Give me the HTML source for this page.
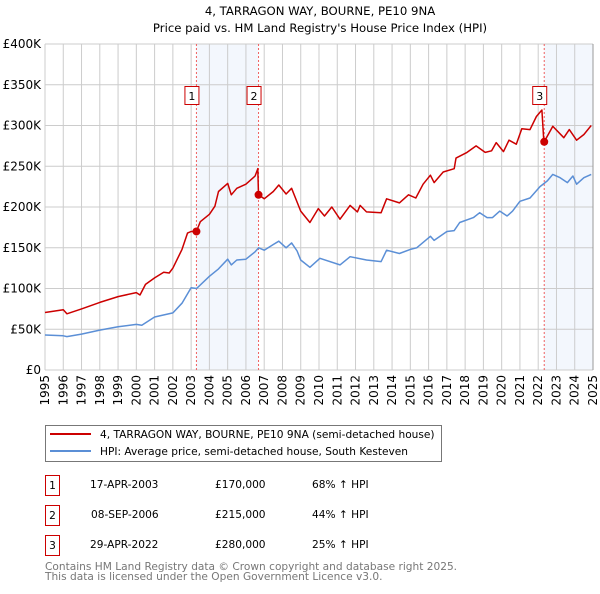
<!DOCTYPE html>
<html><head><meta charset="utf-8"><style>
body{margin:0;background:#fff;font-family:"DejaVu Sans","Liberation Sans",sans-serif;}
svg text{font-family:"DejaVu Sans","Liberation Sans",sans-serif;}
</style></head><body>
<svg id="chart" width="600" height="590" xmlns="http://www.w3.org/2000/svg">
<text x="320" y="15" text-anchor="middle" font-size="11.7">4, TARRAGON WAY, BOURNE, PE10 9NA</text>
<text x="320" y="32" text-anchor="middle" font-size="11.7">Price paid vs. HM Land Registry's House Price Index (HPI)</text>
<g id="plot"></g>
<g>
<rect x="45.5" y="425.5" width="396" height="36" fill="#fff" stroke="#777"/>
<line x1="50" y1="434" x2="91" y2="434" stroke="#cc0000" stroke-width="2"/>
<text x="100" y="438" font-size="10.6">4, TARRAGON WAY, BOURNE, PE10 9NA (semi-detached house)</text>
<line x1="50" y1="451" x2="91" y2="451" stroke="#5b8fd6" stroke-width="2"/>
<text x="100" y="455" font-size="10.6">HPI: Average price, semi-detached house, South Kesteven</text>
</g>
<g font-size="10.6">
<rect x="45.5" y="475.5" width="14" height="20" fill="none" stroke="#cc0000"/><text x="52.5" y="489" text-anchor="middle">1</text>
<text x="90" y="488">17-APR-2003</text><text x="215" y="488">£170,000</text><text x="312" y="488">68% ↑ HPI</text>
<rect x="45.5" y="505.5" width="14" height="20" fill="none" stroke="#cc0000"/><text x="52.5" y="519" text-anchor="middle">2</text>
<text x="91" y="518">08-SEP-2006</text><text x="215" y="518">£215,000</text><text x="312" y="518">44% ↑ HPI</text>
<rect x="45.5" y="535.5" width="14" height="20" fill="none" stroke="#cc0000"/><text x="52.5" y="549" text-anchor="middle">3</text>
<text x="90" y="548">29-APR-2022</text><text x="215" y="548">£280,000</text><text x="312" y="548">25% ↑ HPI</text>
</g>
<text x="45" y="570" font-size="10.6" fill="#777">Contains HM Land Registry data © Crown copyright and database right 2025.</text>
<text x="45" y="580" font-size="10.6" fill="#777">This data is licensed under the Open Government Licence v3.0.</text>
</svg>
<script>
const hpiYears=[1995,1996,1996.2,1997,1998,1999,2000,2000.3,2001,2002,2002.5,2003,2003.3,2004,2004.5,2005,2005.2,2005.5,2006,2006.5,2006.7,2007,2007.5,2007.8,2008.2,2008.5,2008.8,2009,2009.5,2010.05,2011.15,2011.7,2012.6,2013.4,2013.7,2014.4,2015,2015.35,2016.1,2016.3,2017,2017.4,2017.7,2018.45,2018.8,2019.2,2019.5,2019.9,2020.3,2020.6,2021,2021.55,2022.1,2022.5,2022.8,2023.2,2023.6,2023.9,2024.1,2024.5,2024.9];
const hpiValues=[43,42,41,44,49,53,56,55,65,70,82,101,100,115,124,136,129,135,136,145,150,147,154,158,150,156,146,135,126,137,129,139,135,133,147,143,148,150,164,159,170,171,181,187,193,187,187,195,189,195,207,211,225,232,240,236,230,238,228,236,240];
const priceYears=[1995,1996,1996.2,1997,1998,1999,2000,2000.2,2000.5,2001,2001.5,2001.8,2002,2002.5,2002.8,2003,2003.29,2003.5,2004,2004.3,2004.5,2005,2005.2,2005.5,2006,2006.5,2006.65,2006.69,2007,2007.5,2007.8,2008.2,2008.5,2008.8,2009,2009.5,2009.96,2010.3,2010.7,2011.15,2011.7,2012.1,2012.25,2012.6,2013.4,2013.7,2014.4,2014.9,2015.3,2015.7,2016.1,2016.3,2016.8,2017.4,2017.5,2018.1,2018.6,2019.1,2019.45,2019.7,2020.1,2020.4,2020.8,2021.1,2021.55,2021.9,2022.2,2022.3,2022.33,2022.8,2023.4,2023.7,2024.1,2024.5,2024.9];
const priceValues=[70.5,74,69,75,83,90,95,92,105,113,120,119,125,148,168,170,170,182,191,201,219,229,215,223,228,238,247,215,210,219,227,216,223,206,195,181,198,189,200,185,202,194,202,194,193,210,205,215,211,228,239,230,243,247,260,267,275,267,269,279,268,282,277,296,295,311,319,283,280,299,285,295,282,289,300];
const saleYears=[2003.29,2006.69,2022.33];
const saleValues=[170,215,280];
const saleLabels=["1","2","3"];
const yTicks=[0,50,100,150,200,250,300,350,400];
const yTickLabels=["£0","£50K","£100K","£150K","£200K","£250K","£300K","£350K","£400K"];
const xTicks=[1995,1996,1997,1998,1999,2000,2001,2002,2003,2004,2005,2006,2007,2008,2009,2010,2011,2012,2013,2014,2015,2016,2017,2018,2019,2020,2021,2022,2023,2024,2025];

const X0=45,X1=593,Y0=370,Y1=44;
const xs=y=>X0+(y-1995)/30*(X1-X0);
const ys=v=>Y0-v/400*(Y0-Y1);
const NS="http://www.w3.org/2000/svg";
const g=document.getElementById('plot');
function mk(tag,attrs,parent){const e=document.createElementNS(NS,tag);for(const k in attrs)e.setAttribute(k,attrs[k]);(parent||g).appendChild(e);return e;}

let sh=mk('rect',{x:xs(saleYears[0]),y:Y1,width:xs(saleYears[1])-xs(saleYears[0]),height:Y0-Y1,fill:'#eef3fc',opacity:0.7});


let sh2=mk('rect',{x:xs(saleYears[2]),y:Y1,width:X1-xs(saleYears[2]),height:Y0-Y1,fill:'#eef3fc',opacity:0.7});



yTicks.forEach((t,i)=>{
  let l=mk('line',{x1:X0,x2:X1,y1:ys(t),y2:ys(t),stroke:'#ccc','stroke-width':1});
  
  
  let tx=mk('text',{x:X0-4,y:ys(t)+4,'text-anchor':'end','font-size':12});
  tx.textContent=yTickLabels[i];
  
  
});
xTicks.forEach(t=>{
  let l=mk('line',{x1:xs(t),x2:xs(t),y1:Y1,y2:Y0,stroke:'#ccc','stroke-width':1});
  
  
  let tx=mk('text',{x:0,y:0,'text-anchor':'end','font-size':12,transform:`translate(${xs(t)+4},${Y0+5}) rotate(-90)`});
  tx.textContent=t;
  
  
});
let rb=mk('line',{x1:X1,x2:X1,y1:Y1,y2:Y0,stroke:'#999','stroke-width':1});



saleYears.forEach((s,i)=>{
  let l=mk('line',{x1:xs(s),x2:xs(s),y1:Y1,y2:Y0,stroke:'#f06060','stroke-width':1,'stroke-dasharray':'2,2'});
  
  
});

function path(xa,va,col,name){
  let d=xa.map((x,i)=>(i?'L':'M')+xs(x).toFixed(1)+','+ys(va[i]).toFixed(1)).join('');
  let p=mk('path',{d:d,fill:'none',stroke:col,'stroke-width':1.5,'stroke-linejoin':'round'});
  
  
}
path(hpiYears,hpiValues,'#5b8fd6','hpi-line');
path(priceYears,priceValues,'#cc0000','property-price-line');

saleYears.forEach((s,i)=>{
  let c=mk('circle',{cx:xs(s),cy:ys(saleValues[i]),r:4,fill:'#cc0000'});
  
  
  let bx=xs(s)-12;
  let r=mk('rect',{x:bx+0.5,y:86.5,width:14,height:18,fill:'#fff',stroke:'#cc0000'});
  
  
  let tx=mk('text',{x:bx+7.5,y:100,'text-anchor':'middle','font-size':11});
  tx.textContent=saleLabels[i];
  
  
});
</script>
</body></html>
